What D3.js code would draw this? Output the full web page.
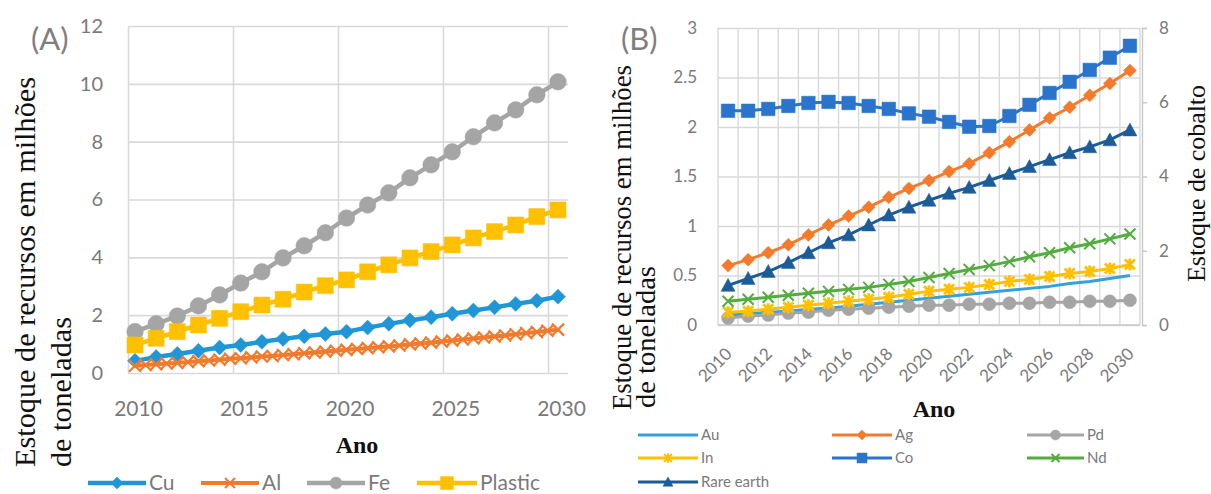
<!DOCTYPE html>
<html><head><meta charset="utf-8">
<script src="https://cdn.jsdelivr.net/npm/d3@7"></script>
<style>body{margin:0;background:#fff} svg{display:block}</style>
</head><body>
<svg id="chart" width="1211" height="494"></svg>
<script>
// ---------- Panel A: resource stock (million tonnes) ----------
const yearsA = d3.range(2010, 2031);
const yearsAl = d3.range(2010, 2030.001, 0.5);
const cu = [0.42,0.55,0.66,0.77,0.88,0.97,1.08,1.18,1.27,1.35,1.43,1.57,1.7,1.82,1.93,2.05,2.16,2.27,2.39,2.5,2.64];
const al = [0.25,0.28,0.30,0.33,0.35,0.38,0.41,0.43,0.46,0.49,0.51,0.54,0.57,0.59,0.62,0.65,0.68,0.71,0.74,0.77,0.80,
            0.83,0.86,0.89,0.92,0.95,0.99,1.02,1.05,1.09,1.12,1.16,1.19,1.23,1.26,1.30,1.34,1.38,1.42,1.46,1.50];
const fe = [1.43,1.7,1.97,2.32,2.7,3.11,3.5,3.98,4.4,4.85,5.36,5.81,6.23,6.75,7.2,7.65,8.17,8.65,9.1,9.62,10.07];
const plastic = [0.97,1.2,1.43,1.66,1.89,2.12,2.35,2.55,2.8,3.02,3.22,3.5,3.74,3.98,4.2,4.43,4.67,4.89,5.12,5.41,5.64];
const ticksAx = [2010, 2015, 2020, 2025, 2030];
const ticksAy = [0, 2, 4, 6, 8, 10, 12];

// ---------- Panel B: metals stock (left) and cobalt stock (right) ----------
const yearsB = d3.range(2010, 2031);
const au = [0.1,0.11,0.13,0.14,0.16,0.17,0.19,0.21,0.23,0.25,0.27,0.29,0.31,0.33,0.35,0.37,0.39,0.42,0.44,0.47,0.5];
const ag = [0.6,0.66,0.73,0.81,0.91,1.01,1.1,1.19,1.29,1.38,1.46,1.55,1.63,1.74,1.85,1.97,2.09,2.2,2.32,2.44,2.57];
const pd = [0.07,0.09,0.1,0.12,0.13,0.15,0.16,0.17,0.18,0.19,0.2,0.2,0.21,0.21,0.22,0.22,0.23,0.23,0.24,0.24,0.25];
const inn = [0.13,0.14,0.16,0.18,0.2,0.22,0.24,0.26,0.28,0.31,0.34,0.36,0.38,0.41,0.44,0.46,0.49,0.52,0.54,0.57,0.61];
const co = [5.77,5.77,5.82,5.9,5.98,6.01,5.98,5.9,5.82,5.7,5.61,5.47,5.34,5.36,5.63,5.93,6.25,6.55,6.87,7.2,7.52];
const nd = [0.24,0.26,0.28,0.30,0.32,0.34,0.36,0.38,0.41,0.44,0.48,0.52,0.56,0.60,0.64,0.69,0.73,0.78,0.82,0.87,0.92];
const rareEarth = [0.4,0.47,0.54,0.63,0.73,0.83,0.91,1.01,1.11,1.19,1.26,1.33,1.39,1.46,1.53,1.6,1.67,1.74,1.8,1.87,1.97];
const ticksBx = d3.range(2010, 2031, 2);
const ticksBy = [0, 0.5, 1, 1.5, 2, 2.5, 3];
const ticksBy2 = [0, 2, 4, 6, 8];

const svg = d3.select("#chart");
const GRID = "#d9d9d9";
const TXT = "#7a7a7a";
const SANS = "Lato, 'Liberation Sans', sans-serif";
const SERIF = "'Liberation Serif', 'DejaVu Serif', serif";

// Marker shapes centred on the origin; s is the half size
function markerPath(kind, s) {
  switch (kind) {
    case "diamond": return `M0,${-s}L${s},0L0,${s}L${-s},0Z`;
    case "square": return `M${-s},${-s}h${2*s}v${2*s}h${-2*s}Z`;
    case "triangle": return `M0,${-s}L${s},${s*0.85}L${-s},${s*0.85}Z`;
    case "circle": return d3.symbol(d3.symbolCircle, Math.PI * s * s)();
    case "x": return `M${-s},${-s}L${s},${s}M${-s},${s}L${s},${-s}`;
    case "star": return `M${-s},${-s}L${s},${s}M${-s},${s}L${s},${-s}M0,${-s*1.2}V${s*1.2}`;
  }
  return "";
}
const stroked = k => k === "x" || k === "star";

function drawSeries(g, xs, ys, xScale, yScale, st) {
  const pts = xs.map((x, i) => [xScale(x), yScale(ys[i])]);
  g.append("path").attr("d", d3.line()(pts))
    .attr("fill", "none").attr("stroke", st.color).attr("stroke-width", st.lw)
    .attr("stroke-linejoin", "round");
  if (!st.marker) return;
  g.selectAll(null).data(pts).enter().append("path")
    .attr("transform", d => `translate(${d[0]},${d[1]})`)
    .attr("d", markerPath(st.marker, st.size))
    .attr("fill", stroked(st.marker) ? "none" : st.color)
    .attr("stroke", st.color)
    .attr("stroke-width", stroked(st.marker) ? st.mlw : 0.5);
}

function legendItem(g, x, y, len, label, st, fontSize, ms) {
  g.append("line").attr("x1", x).attr("x2", x + len).attr("y1", y).attr("y2", y)
    .attr("stroke", st.color).attr("stroke-width", st.lw);
  if (st.marker) {
    g.append("path").attr("transform", `translate(${x + len / 2},${y})`)
      .attr("d", markerPath(st.marker, ms))
      .attr("fill", stroked(st.marker) ? "none" : st.color)
      .attr("stroke", st.color).attr("stroke-width", stroked(st.marker) ? 2 : 0.5);
  }
  g.append("text").attr("x", x + len + 3).attr("y", y).attr("dy", "0.35em")
    .attr("font-family", SANS).attr("font-size", fontSize).attr("fill", TXT).text(label);
}

function styleAxis(sel, size) {
  sel.select(".domain").remove();
  sel.selectAll("text").attr("font-family", SANS).attr("font-size", size).attr("fill", TXT);
}

// ================= Panel A =================
{
  const L = 128, R = 568, T = 26, B = 373;
  const xA = d3.scaleLinear().domain([2010, 2030]).range([135, 558]);
  const xGrid = d3.scaleLinear().domain([2010, 2030]).range([L, 548]);
  const yA = d3.scaleLinear().domain([0, 12]).range([B, T]);
  const g = svg.append("g");

  // horizontal grid
  const gy = g.append("g").attr("transform", `translate(${L},0)`)
    .call(d3.axisLeft(yA).tickValues(ticksAy).tickSize(-(R - L)).tickFormat(""));
  gy.select(".domain").remove();
  gy.selectAll("line").attr("stroke", GRID).attr("stroke-width", 1.6);
  // vertical grid
  const gx = g.append("g").attr("transform", `translate(0,${B})`)
    .call(d3.axisBottom(xGrid).tickValues(ticksAx).tickSize(-(B - T)).tickFormat(""));
  gx.select(".domain").remove();
  gx.selectAll("line").attr("stroke", GRID).attr("stroke-width", 1.6);

  // tick labels
  const ay = g.append("g").attr("transform", `translate(${L},0)`)
    .call(d3.axisLeft(yA).tickValues(ticksAy).tickSize(0).tickPadding(25));
  styleAxis(ay, 20);
  const ax = g.append("g").attr("transform", `translate(0,${B})`)
    .call(d3.axisBottom(xA).tickValues(ticksAx).tickSize(0).tickPadding(28).tickFormat(d3.format("d")));
  styleAxis(ax, 21);
  ax.selectAll("text").attr("dx", 3);

  const stA = {
    cu: {color: "#2196d6", lw: 4.5, marker: "diamond", size: 7.5},
    al: {color: "#f27a2c", lw: 4, marker: "x", size: 6, mlw: 2.2},
    fe: {color: "#a5a5a5", lw: 4.5, marker: "circle", size: 8.3},
    plastic: {color: "#ffc000", lw: 4.5, marker: "square", size: 8}
  };
  drawSeries(g, yearsA, cu, xA, yA, stA.cu);
  drawSeries(g, yearsAl, al, xA, yA, stA.al);
  drawSeries(g, yearsA, fe, xA, yA, stA.fe);
  drawSeries(g, yearsA, plastic, xA, yA, stA.plastic);

  // panel tag
  g.append("text").attr("x", 31).attr("y", 50).attr("font-family", SANS)
    .attr("font-size", 31).attr("fill", "#7f7f7f").text("(A)");

  // axis titles
  g.append("text").attr("transform", "translate(35,467) rotate(-90)")
    .attr("font-family", SERIF).attr("font-size", 30).attr("fill", "#111")
    .attr("textLength", 390).attr("lengthAdjust", "spacingAndGlyphs")
    .text("Estoque de recursos em milhões");
  g.append("text").attr("transform", "translate(71,467) rotate(-90)")
    .attr("font-family", SERIF).attr("font-size", 30).attr("fill", "#111")
    .attr("textLength", 150).attr("lengthAdjust", "spacingAndGlyphs")
    .text("de toneladas");
  g.append("text").attr("x", 357).attr("y", 453).attr("text-anchor", "middle")
    .attr("font-family", SERIF).attr("font-weight", "bold").attr("font-size", 24).attr("fill", "#111")
    .text("Ano");

  // legend
  const lg = g.append("g");
  legendItem(lg, 88, 483, 58, "Cu", stA.cu, 21, 6);
  legendItem(lg, 201, 483, 58, "Al", stA.al, 21, 5);
  legendItem(lg, 307, 483, 58, "Fe", stA.fe, 21, 6);
  legendItem(lg, 417, 483, 60, "Plastic", stA.plastic, 21, 6.5);
}

// ================= Panel B =================
{
  const L = 718, R = 1140, T = 28, B = 325;
  const xB = d3.scaleBand().domain(yearsB).range([L, R]);
  const xc = d => xB(d) + xB.bandwidth() / 2;
  const yL = d3.scaleLinear().domain([0, 3]).range([B, T]);
  const yR = d3.scaleLinear().domain([0, 8]).range([B, T]);
  const g = svg.append("g");

  // grid
  const gy = g.append("g").attr("transform", `translate(${L},0)`)
    .call(d3.axisLeft(yL).tickValues(ticksBy).tickSize(-(R - L)).tickFormat(""));
  gy.select(".domain").remove();
  gy.selectAll("line").attr("stroke", GRID).attr("stroke-width", 1.4);
  const bounds = yearsB.map(d => xB(d)).concat([R]);
  g.append("g").selectAll("line").data(bounds).enter().append("line")
    .attr("x1", d => d).attr("x2", d => d).attr("y1", T).attr("y2", B)
    .attr("stroke", GRID).attr("stroke-width", 1.4);
  g.append("line").attr("x1", L).attr("x2", R).attr("y1", B).attr("y2", B)
    .attr("stroke", "#c8c8c8").attr("stroke-width", 1.6);

  // left labels
  const ay = g.append("g").attr("transform", `translate(${L},0)`)
    .call(d3.axisLeft(yL).tickValues(ticksBy).tickSize(0).tickPadding(21).tickFormat(d3.format("~g")));
  styleAxis(ay, 17);
  // right axis
  const ar = g.append("g").attr("transform", `translate(${R + 2},0)`)
    .call(d3.axisRight(yR).tickValues(ticksBy2).tickSize(5).tickPadding(12));
  ar.select(".domain").attr("stroke", "#c8c8c8").attr("stroke-width", 1.4);
  ar.selectAll("line").attr("stroke", "#c8c8c8").attr("stroke-width", 1.4);
  ar.selectAll("text").attr("font-family", SANS).attr("font-size", 17).attr("fill", TXT);
  // rotated year labels
  g.append("g").selectAll("text").data(ticksBx).enter().append("text")
    .attr("transform", d => `translate(${xc(d) + 5},${B + 30}) rotate(-45)`)
    .attr("text-anchor", "end")
    .attr("font-family", SANS).attr("font-size", 17).attr("fill", TXT)
    .text(d => d);

  const stB = {
    au: {color: "#34a0dc", lw: 3, marker: null},
    ag: {color: "#f47b2c", lw: 3, marker: "diamond", size: 6.5},
    pd: {color: "#a5a5a5", lw: 3, marker: "circle", size: 6.5},
    in: {color: "#ffc000", lw: 3, marker: "star", size: 5, mlw: 2.8},
    co: {color: "#2b74cc", lw: 3, marker: "square", size: 6.8},
    nd: {color: "#52ad3e", lw: 3, marker: "x", size: 5.5, mlw: 2},
    re: {color: "#1d5c99", lw: 3, marker: "triangle", size: 7}
  };
  drawSeries(g, yearsB, au, xc, yL, stB.au);
  drawSeries(g, yearsB, ag, xc, yL, stB.ag);
  drawSeries(g, yearsB, pd, xc, yL, stB.pd);
  drawSeries(g, yearsB, inn, xc, yL, stB.in);
  drawSeries(g, yearsB, co, xc, yR, stB.co);
  drawSeries(g, yearsB, nd, xc, yL, stB.nd);
  drawSeries(g, yearsB, rareEarth, xc, yL, stB.re);

  g.append("text").attr("x", 621).attr("y", 50).attr("font-family", SANS)
    .attr("font-size", 31).attr("fill", "#7f7f7f").text("(B)");

  g.append("text").attr("transform", "translate(631,410) rotate(-90)")
    .attr("font-family", SERIF).attr("font-size", 27).attr("fill", "#111")
    .attr("textLength", 345).attr("lengthAdjust", "spacingAndGlyphs")
    .text("Estoque de recursos em milhões");
  g.append("text").attr("transform", "translate(655,408) rotate(-90)")
    .attr("font-family", SERIF).attr("font-size", 27).attr("fill", "#111")
    .attr("textLength", 142).attr("lengthAdjust", "spacingAndGlyphs")
    .text("de toneladas");
  g.append("text").attr("transform", "translate(1205,282) rotate(-90)")
    .attr("font-family", SERIF).attr("font-size", 26).attr("fill", "#111")
    .attr("textLength", 197).attr("lengthAdjust", "spacingAndGlyphs")
    .text("Estoque de cobalto");
  g.append("text").attr("x", 934).attr("y", 417).attr("text-anchor", "middle")
    .attr("font-family", SERIF).attr("font-weight", "bold").attr("font-size", 24).attr("fill", "#111")
    .text("Ano");

  const lg = g.append("g");
  legendItem(lg, 638, 435, 60, "Au", stB.au, 15, 5);
  legendItem(lg, 832, 435, 60, "Ag", stB.ag, 15, 5);
  legendItem(lg, 1027, 435, 57, "Pd", stB.pd, 15, 5);
  legendItem(lg, 638, 458, 60, "In", stB.in, 15, 4);
  legendItem(lg, 832, 458, 60, "Co", stB.co, 15, 5);
  legendItem(lg, 1027, 458, 57, "Nd", stB.nd, 15, 4);
  legendItem(lg, 638, 482, 60, "Rare earth", stB.re, 15, 5);
}
</script>
</body></html>
